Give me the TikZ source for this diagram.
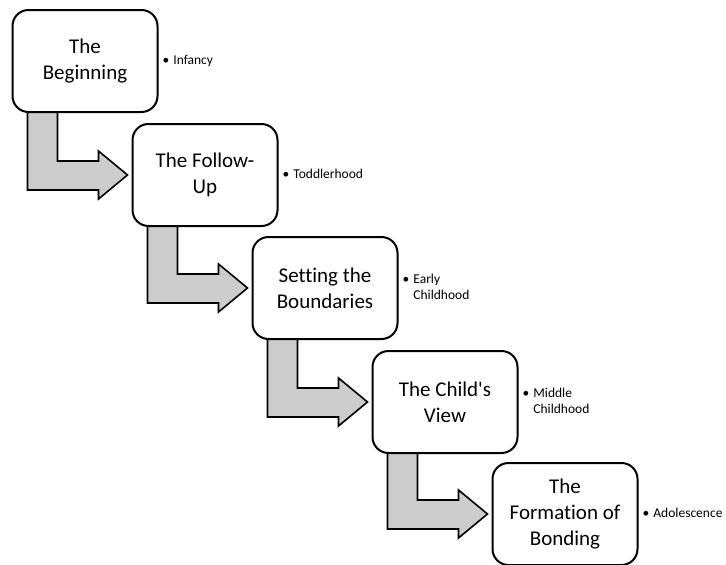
\documentclass[tikz,border=0pt]{standalone}
\usepackage{fontspec}
\setmainfont{Carlito}[Ligatures=NoCommon]
\usetikzlibrary{calc,backgrounds}
\tikzset{
  stagebox/.style={draw=black, line width=2pt, rounded corners=16pt, fill=white,
    minimum width=145pt, minimum height=102pt, align=center, inner sep=2pt,
    font=\fontsize{21}{25.6}\selectfont},
  notetext/.style={anchor=west, inner sep=0pt, font=\fontsize{13.5}{16.5}\selectfont},
  bendarrow/.style={draw=black, line width=1.6pt, fill=black!20, line join=miter}
}
\newcommand{\bul}[1]{\begin{tabular}{@{}l@{\hspace{4pt}}l@{}}\textbullet & #1\end{tabular}}
\begin{document}
\begin{tikzpicture}[x=1pt,y=-1pt]
\useasboundingbox (0,0) rectangle (726,565);
\node[stagebox] (b1) at (85,61) {The\\Beginning};
\node[stagebox] (b2) at (205,175) {The Follow-\\Up};
\node[stagebox] (b3) at (325,288) {Setting the\\Boundaries};
\node[stagebox] (b4) at (445,402) {The Child\textquotesingle s\\View};
\node[stagebox] (b5) at (565,514) {The\\Formation of\\Bonding};
\node[notetext] (n1) at ($(b1.east)+(4,0)$) {\bul{Infancy}};
\node[notetext] (n2) at ($(b2.east)+(4,0)$) {\bul{Toddlerhood}};
\node[notetext] (n3) at ($(b3.east)+(4,0)$) {\bul{Early\\ & Childhood}};
\node[notetext] (n4) at ($(b4.east)+(4,0)$) {\bul{Middle\\ & Childhood}};
\node[notetext] (n5) at ($(b5.east)+(4,0)$) {\bul{Adolescence}};
\begin{scope}[on background layer]
\foreach \a/\b in {b1/b2,b2/b3,b3/b4,b4/b5}{
  \draw[bendarrow] let \p1=(\a.south west), \p2=(\b.west) in
    (\x1+16pt,\y1+4pt) -- (\x1+16pt,\y2-15pt) -- (\x2-33pt,\y2-15pt)
    -- (\x2-33pt,\y2-24pt) -- (\x2-4pt,\y2) -- (\x2-33pt,\y2+24pt)
    -- (\x2-33pt,\y2+14pt) -- (\x1+46pt,\y2+14pt) -- (\x1+46pt,\y1+4pt) -- cycle;
}
\end{scope}
\end{tikzpicture}
\end{document}
